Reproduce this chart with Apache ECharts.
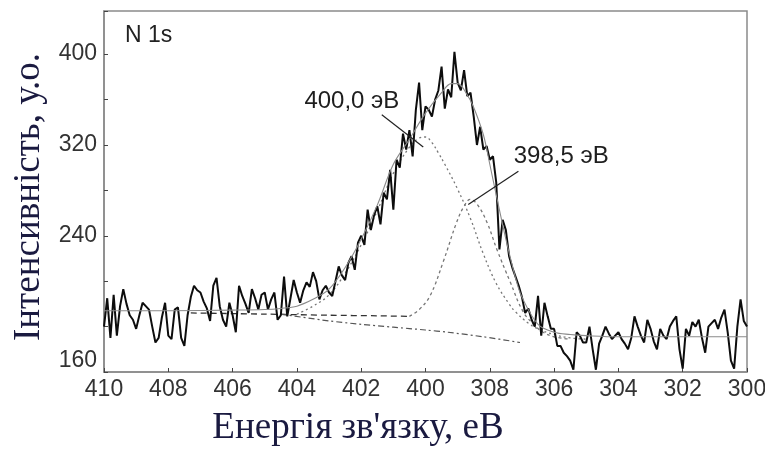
<!DOCTYPE html>
<html><head><meta charset="utf-8">
<script src="https://cdn.jsdelivr.net/npm/echarts@6/dist/echarts.min.js"></script>
<style>html,body{margin:0;padding:0;background:#fff}#c{width:765px;height:450px}</style>
</head><body><div id="c"></div>
<script>
// ---- data ----
const energyStart = 410;
const energyStep = -0.1;
const rawCounts = [
 160,185,150,188,152,178,193,180,170,166,
 158,170,181,178,175,160,146,150,168,181,
 152,149,175,177,150,143,170,186,196,192,
 190,182,176,165,196,203,178,166,160,181,
 170,155,196,187,180,172,193,185,175,188,
 190,175,184,190,166,170,204,169,185,201,
 190,181,192,199,195,208,200,184,192,196,
 190,187,200,213,205,201,216,222,210,234,
 240,232,263,245,258,266,250,278,272,298,
 263,307,300,330,316,333,310,351,375,333,
 354,351,345,360,368,389,352,369,362,402,
 375,368,386,363,366,345,320,336,316,319,
 307,310,287,228,254,245,222,212,204,196,
 186,172,176,166,160,187,152,181,169,158,
 158,143,143,137,134,130,122,155,152,146,
 146,160,140,122,145,152,160,154,149,152,
 155,149,145,140,150,169,160,152,146,166,
 158,147,140,158,152,149,160,165,169,140,
 123,158,152,164,160,166,150,137,160,163,
 166,158,168,175,155,130,123,160,184,165,
 160
];
const envelope = [[410,174],[408,174],[406,174.5],[405,175],[404.5,176],[404,178],[403.5,184],[403,193],[402.5,212],[402,237],[401.5,267],[401,303],[400.5,325],[400,348],[399.5,366],[399.2,374],[399,374],[398.7,364],[398.5,353],[398.2,329],[398,303],[397.8,276],[397.5,237],[397.2,203],[397,186],[396.5,162],[396,155],[395.5,153],[395,152],[394,151],[390,151]];
const peak400 = [[404,171],[403.5,178],[403,188],[402.5,207],[402,232],[401.5,262],[401,295],[400.5,318],[400.2,326],[400,327],[399.8,322],[399.6,313],[399.4,303],[399,281],[398.6,255],[398.2,224],[397.8,198],[397.4,180],[397.2,173],[396.8,163],[396.5,158],[396,153],[395.5,150],[395,149]];
const peak3985 = [[400.5,169],[400.2,175],[399.86,187],[399.45,217],[399.03,252],[398.8,266],[398.61,272],[398.4,268],[398.09,252],[397.78,228],[397.36,199],[396.96,173],[396.6,161],[396.34,155],[396,151],[395.5,149]];
const baselineUpper = [[407.3,172],[405,171],[403,170],[401.5,169.5],[400.5,169]];
const baselineLower = [[404.5,171],[403,165],[402,162],[401,159.5],[400,157],[399.3,155],[398.2,151],[397.06,146]];
const xTickValues = [410,408,406,404,402,400,398,396,394,392,390];
const xTickLabels = ['410','408','406','404','402','400','308','306','304','302','300'];
const yTickValues = [120,240,320,400];
const yTickLabels = ['160','240','320','400'];
const annotationTexts = ['400,0 эВ','398,5 эВ'];
const annotationTextAt = [[402.29,358.3],[395.78,309.7]];
const annotationLeaders = [[[401.36,346.6],[400.07,318.2]],[[397.11,296.8],[398.67,267.5]]];

// ---- chart ----
const rawData = rawCounts.map((v,i)=>[+(energyStart + i*energyStep).toFixed(2), v]);
const chart = echarts.init(document.getElementById('c'), null, {renderer:'canvas'});
const sans = '"Liberation Sans", Arial, sans-serif';
const serif = '"Liberation Serif", "Times New Roman", serif';
const titleColor = '#1a1a40';

const series = [
  {type:'line', data:baselineUpper, showSymbol:false, symbol:'none', smooth:0.3,
   lineStyle:{color:'#333', width:1.3, type:[6,4]}, z:2},
  {type:'line', data:baselineLower, showSymbol:false, symbol:'none', smooth:0.3,
   lineStyle:{color:'#555', width:1.2, type:[6,3,2,3]}, z:2},
  {type:'line', data:peak400, showSymbol:false, symbol:'none', smooth:0.4,
   lineStyle:{color:'#777', width:1.3, type:[2,3]}, z:2},
  {type:'line', data:peak3985, showSymbol:false, symbol:'none', smooth:0.4,
   lineStyle:{color:'#777', width:1.3, type:[3,3]}, z:2},
  {type:'line', data:rawData, showSymbol:false, symbol:'none',
   lineStyle:{color:'#0d0d0d', width:2}, z:3},
  {type:'line', data:envelope, showSymbol:false, symbol:'none', smooth:0.35,
   lineStyle:{color:'#8a8a8a', width:1.1}, z:4}
];
annotationLeaders.forEach(seg=>{
  series.push({type:'line', data:seg, showSymbol:false, symbol:'none',
    lineStyle:{color:'#222', width:1.2}, z:5});
});
series.push({type:'scatter', symbol:'circle', symbolSize:1, z:6,
  itemStyle:{color:'rgba(0,0,0,0)', opacity:1},
  data: annotationTexts.map((t,i)=>({name:t, value:annotationTextAt[i]})),
  label:{show:true, position:'inside', formatter:p=>p.name, color:'#1e1e1e', opacity:1,
    fontSize:24, fontFamily:sans}
});

chart.setOption({
  animation:false,
  backgroundColor:'#fff',
  grid:{left:104, right:18, top:11, bottom:78, show:true, borderColor:'#8a8a8a', borderWidth:1.5, containLabel:false, outerBoundsMode:'none'},
  xAxis:{type:'value', min:390, max:410, interval:2, inverse:true,
    axisLine:{show:true, lineStyle:{color:'#8a8a8a', width:1.5}},
    axisTick:{show:true, inside:true, length:4, lineStyle:{color:'#444', width:1}},
    splitLine:{show:false},
    axisLabel:{color:'#333', fontSize:23, fontFamily:sans, margin:6, showMinLabel:true, showMaxLabel:true,
      formatter:v=>{const k=xTickValues.findIndex(t=>Math.abs(t-v)<1e-6); return k>=0?xTickLabels[k]:'';}}
  },
  yAxis:{type:'value', min:120, max:438, interval:40,
    axisLine:{show:true, lineStyle:{color:'#8a8a8a', width:1.5}},
    axisTick:{show:true, inside:true, length:4, lineStyle:{color:'#444', width:1}},
    splitLine:{show:false},
    axisLabel:{color:'#333', fontSize:23, fontFamily:sans, margin:7, showMinLabel:true, showMaxLabel:true,
      verticalAlignMinLabel:'bottom',
      formatter:v=>{const k=yTickValues.findIndex(t=>Math.abs(t-v)<1e-6); return k>=0?yTickLabels[k]:'';}}
  },
  graphic:[
    {type:'text', x:125, y:36, style:{text:'N 1s', font:'23px '+sans, fill:'#222', align:'left', verticalAlign:'middle', textAlign:'left', textVerticalAlign:'middle'}},
    {type:'text', x:358, y:428, style:{text:"Енергія зв'язку, еВ", font:'37px '+serif, fill:titleColor, align:'center', verticalAlign:'middle', textAlign:'center', textVerticalAlign:'middle'}},
    {type:'text', x:29, y:197, rotation:Math.PI/2, style:{text:'Інтенсивність, у.о.', font:'37px '+serif, fill:titleColor, align:'center', verticalAlign:'middle', textAlign:'center', textVerticalAlign:'middle'}}
  ],
  series:series
});
</script>
</body></html>
